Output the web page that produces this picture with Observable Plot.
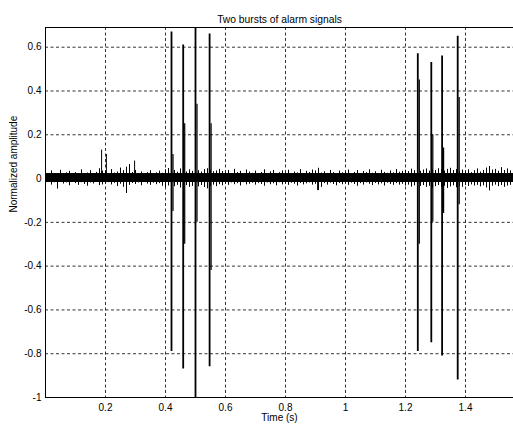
<!DOCTYPE html>
<html><head><meta charset="utf-8">
<script src="https://cdn.jsdelivr.net/npm/d3@7"></script>
<script src="https://cdn.jsdelivr.net/npm/@observablehq/plot@0.6"></script>
<style>
html,body{margin:0;padding:0;background:#fff;}
#chart svg{display:block;}
</style>
</head><body><div id="chart"></div><script>
const title = "Two bursts of alarm signals";
const xLabel = "Time (s)";
const yLabel = "Normalized amplitude";
const xDomain = [0, 1.56];
const yDomain = [-1, 0.69];
const xTicks = [0.2, 0.4, 0.6, 0.8, 1, 1.2, 1.4];
const yTicks = [-1, -0.8, -0.6, -0.4, -0.2, 0, 0.2, 0.4, 0.6];

// solid core of the noise floor (lower, upper)
const coreBand = [-0.018, 0.023];

// noise peaks, one sample every 0.01 s from 0 to 1.56 s
const noiseStep = 0.01;
const noiseHigh = [
0.024,0.021,0.035,0.022,0.020,0.038,0.023,0.026,0.033,0.021,
0.027,0.022,0.040,0.021,0.025,0.036,0.022,0.028,0.045,0.034,
0.032,0.023,0.041,0.025,0.030,0.048,0.036,0.052,0.044,0.028,
0.037,0.022,0.030,0.021,0.027,0.036,0.022,0.026,0.034,0.024,
0.040,0.046,0.032,0.037,0.029,0.044,0.035,0.030,0.040,0.033,
0.043,0.036,0.030,0.041,0.045,0.038,0.031,0.035,0.042,0.032,
0.026,0.037,0.022,0.042,0.027,0.033,0.023,0.039,0.030,0.024,
0.034,0.021,0.028,0.040,0.023,0.031,0.037,0.022,0.027,0.035,
0.024,0.038,0.021,0.030,0.026,0.041,0.022,0.033,0.028,0.039,
0.035,0.047,0.025,0.031,0.022,0.037,0.027,0.021,0.034,0.026,
0.030,0.039,0.023,0.028,0.037,0.022,0.032,0.027,0.040,0.024,
0.031,0.022,0.038,0.028,0.024,0.035,0.026,0.041,0.029,0.033,
0.038,0.032,0.043,0.036,0.048,0.033,0.039,0.044,0.034,0.041,
0.037,0.045,0.040,0.034,0.042,0.047,0.037,0.041,0.033,0.039,
0.031,0.040,0.027,0.036,0.044,0.030,0.037,0.048,0.055,0.039,
0.042,0.033,0.050,0.037,0.044,0.035,0.041];
const noiseLow = [
-0.022,-0.017,-0.030,-0.019,-0.048,-0.018,-0.025,-0.020,-0.033,-0.017,
-0.023,-0.031,-0.019,-0.027,-0.035,-0.020,-0.025,-0.018,-0.032,-0.029,
-0.024,-0.019,-0.029,-0.022,-0.036,-0.026,-0.040,-0.068,-0.031,-0.022,
-0.027,-0.020,-0.033,-0.018,-0.025,-0.031,-0.021,-0.028,-0.023,-0.035,
-0.041,-0.034,-0.045,-0.037,-0.031,-0.043,-0.039,-0.032,-0.040,-0.036,
-0.044,-0.038,-0.032,-0.041,-0.047,-0.035,-0.030,-0.037,-0.028,-0.033,
-0.025,-0.031,-0.020,-0.028,-0.023,-0.034,-0.019,-0.029,-0.026,-0.021,
-0.030,-0.022,-0.027,-0.035,-0.020,-0.028,-0.024,-0.033,-0.019,-0.029,
-0.023,-0.031,-0.021,-0.026,-0.034,-0.022,-0.029,-0.024,-0.020,-0.030,
-0.026,-0.055,-0.040,-0.023,-0.030,-0.021,-0.027,-0.033,-0.022,-0.028,
-0.024,-0.031,-0.021,-0.027,-0.035,-0.023,-0.030,-0.020,-0.026,-0.032,
-0.022,-0.029,-0.024,-0.034,-0.021,-0.027,-0.031,-0.023,-0.030,-0.026,
-0.034,-0.030,-0.039,-0.033,-0.042,-0.036,-0.032,-0.040,-0.035,-0.044,
-0.037,-0.032,-0.041,-0.035,-0.045,-0.038,-0.033,-0.042,-0.036,-0.040,
-0.032,-0.036,-0.029,-0.034,-0.031,-0.038,-0.033,-0.043,-0.056,-0.035,
-0.030,-0.037,-0.032,-0.040,-0.034,-0.031,-0.036];

// isolated small excursions above/below the noise floor
const blipTimes = [0.187, 0.203, 0.270, 0.280, 0.297, 0.907, 1.480];
const blipHigh  = [0.13, 0.11, 0.02, 0.064, 0.08, 0.02, 0.055];
const blipLow   = [-0.01, -0.01, -0.068, -0.01, -0.01, -0.055, -0.055];

// alarm pulses (two bursts of four)
const pulseTimes  = [0.420, 0.459, 0.500, 0.547, 1.241, 1.286, 1.322, 1.374];
const pulseTop    = [0.67, 0.61, 0.80, 0.66, 0.57, 0.53, 0.56, 0.65];
const pulseBottom = [-0.79, -0.87, -1.10, -0.86, -0.79, -0.75, -0.81, -0.92];
const echoTop     = [0.11, 0.25, 0.34, 0.25, 0.45, 0.20, 0.14, 0.37];
const echoBottom  = [-0.15, -0.30, -0.20, -0.42, -0.30, -0.20, -0.16, -0.12];

const noise = noiseHigh.map((h, i) => ({t: i * noiseStep, hi: h, lo: noiseLow[i]}));
const blips = blipTimes.map((t, i) => ({t, hi: blipHigh[i], lo: blipLow[i]}));
const pulses = pulseTimes.map((t, i) => ({t, top: pulseTop[i], bottom: pulseBottom[i], etop: echoTop[i], ebottom: echoBottom[i]}));

const fmt = d => String(d);

const chart = Plot.plot({
  width: 513,
  height: 425,
  marginLeft: 45,
  marginRight: 0,
  marginTop: 27,
  marginBottom: 28,
  style: {fontFamily: "'Liberation Sans', Arial, sans-serif", fontSize: "10px", background: "#fff", color: "#000"},
  x: {domain: xDomain},
  y: {domain: yDomain},
  marks: [
    Plot.gridX(xTicks, {stroke: "#000", strokeOpacity: 1, strokeWidth: 0.8, strokeDasharray: "3,2.5"}),
    Plot.gridY(yTicks, {stroke: "#000", strokeOpacity: 1, strokeWidth: 0.8, strokeDasharray: "3,2.5"}),
    Plot.rect([coreBand], {x1: () => xDomain[0], x2: () => xDomain[1], y1: d => d[0], y2: d => d[1], fill: "#000", clip: true}),
    Plot.ruleX(noise, {x: "t", y1: "lo", y2: "hi", stroke: "#000", strokeWidth: 1, clip: true}),
    Plot.ruleX(blips, {x: "t", y1: "lo", y2: "hi", stroke: "#000", strokeWidth: 1, clip: true}),
    Plot.ruleX(pulses, {x: "t", y1: "ebottom", y2: "etop", stroke: "#000", strokeWidth: 1.2, dx: 1.5, clip: true}),
    Plot.ruleX(pulses, {x: "t", y1: "bottom", y2: "top", stroke: "#000", strokeWidth: 1.8, clip: true}),
    Plot.ruleX([xDomain[0]], {stroke: "#000", strokeWidth: 1}),
    Plot.ruleY(yDomain, {stroke: "#000", strokeWidth: 1}),
    Plot.axisX(xTicks, {tickSize: 0, tickPadding: 6, tickFormat: fmt, label: null, fontSize: 10}),
    Plot.axisY(yTicks, {tickSize: 0, tickPadding: 4, tickFormat: fmt, label: null, fontSize: 10}),
    Plot.text([title], {frameAnchor: "top", dy: -11.5, fontSize: 10.3}),
    Plot.text([xLabel], {frameAnchor: "bottom", dy: 23, fontSize: 10}),
    Plot.text([yLabel], {frameAnchor: "left", dx: -32, rotate: -90, fontSize: 10})
  ]
});
document.getElementById("chart").append(chart);
</script></body></html>
